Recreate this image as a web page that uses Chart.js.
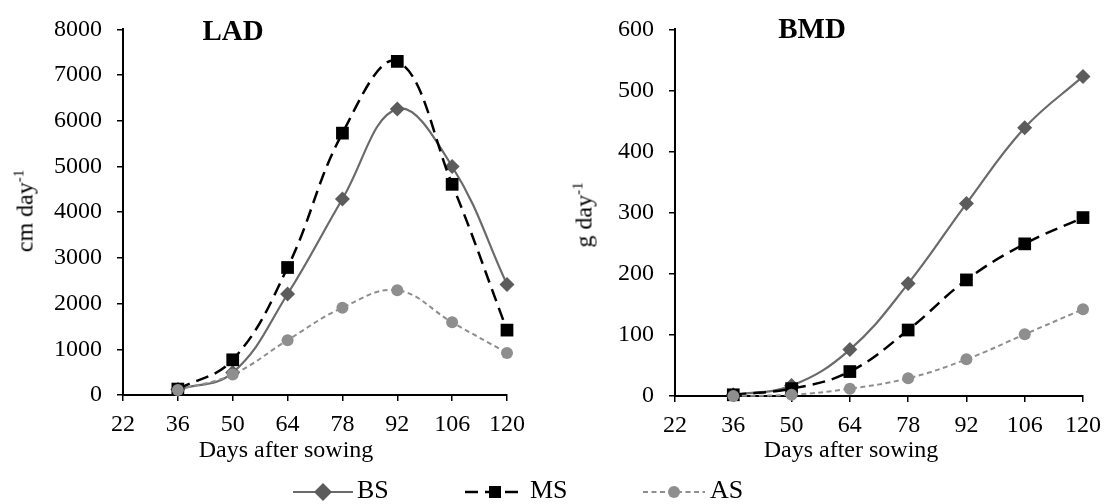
<!DOCTYPE html>
<html>
<head>
<meta charset="utf-8">
<script src="https://cdn.jsdelivr.net/npm/chart.js@4.4.1/dist/chart.umd.min.js"></script>
<style>
  body { margin: 0; background: #fff; }
  #wrap { position: relative; width: 1110px; height: 504px; overflow: hidden;
          font-family: 'Liberation Serif', 'Times New Roman', serif; color: #000; }
  canvas.plot { position: absolute; top: 0; }
  .txt { position: absolute; white-space: nowrap; }
  .title { font-weight: bold; font-size: 29px; line-height: 29px; transform: translateX(-50%); }
  .xtitle { font-size: 24px; line-height: 24px; top: 437px; transform: translateX(-50%); }
  .ytitle { font-size: 24px; line-height: 24px; transform: translate(-50%, -50%) rotate(-90deg); }
  .ytitle span { font-size: 15px; position: relative; top: -9px; }
  .leg { position: absolute; top: 482px; }
  .legtxt { position: absolute; font-size: 26px; line-height: 26px; top: 477px; }
</style>
</head>
<body>
<div id="wrap">
  <canvas id="ladChart" class="plot" width="540" height="470" style="left:0"></canvas>
  <canvas id="bmdChart" class="plot" width="555" height="470" style="left:555px"></canvas>

  <div class="txt title" style="left:233px; top:16px">LAD</div>
  <div class="txt title" style="left:812px; top:14px">BMD</div>

  <div class="txt xtitle" style="left:286px">Days after sowing</div>
  <div class="txt xtitle" style="left:851px">Days after sowing</div>

  <div class="txt ytitle" style="left:26px; top:211px">cm day<span>-1</span></div>
  <div class="txt ytitle" style="left:585px; top:215px">g day<span>-1</span></div>

  <canvas id="legBS" class="leg" width="62" height="20" style="left:292px"></canvas>
  <div class="legtxt" style="left:357px">BS</div>
  <canvas id="legMS" class="leg" width="62" height="20" style="left:464px"></canvas>
  <div class="legtxt" style="left:530px">MS</div>
  <canvas id="legAS" class="leg" width="64" height="20" style="left:642px"></canvas>
  <div class="legtxt" style="left:710px">AS</div>
</div>

<script>
// ---- data ----
const days = [36, 50, 64, 78, 92, 106, 120];
const xTicks = [22, 36, 50, 64, 78, 92, 106, 120];

const ladBS = [120, 490, 2210, 4290, 6260, 5000, 2420];
const ladMS = [130, 770, 2790, 5730, 7300, 4610, 1420];
const ladAS = [110, 450, 1200, 1910, 2290, 1590, 920];
const ladTicks = [0, 1000, 2000, 3000, 4000, 5000, 6000, 7000, 8000];

const bmdBS = [2, 17, 76, 184, 315, 439, 523];
const bmdMS = [2, 12, 40, 108, 190, 249, 292];
const bmdAS = [0, 2, 12, 29, 60, 101, 142];
const bmdTicks = [0, 100, 200, 300, 400, 500, 600];

const seriesNames = ['BS', 'MS', 'AS'];

// ---- styles ----
const FONT = "'Liberation Serif', 'Times New Roman', serif";
const styles = {
  BS: { line: '#6a6a6a', fill: '#5c5c5c', width: 2.2, dash: [], point: 'rectRot', r: 7.5, order: 3 },
  MS: { line: '#000000', fill: '#000000', width: 2.5, dash: [13, 7], point: 'rect', r: 9, order: 2 },
  AS: { line: '#8e8e8e', fill: '#8e8e8e', width: 2, dash: [5, 3.5], point: 'circle', r: 6, order: 1 }
};

function buildDatasets(valueLists) {
  return seriesNames.map((name, i) => {
    const st = styles[name];
    return {
      label: name,
      data: days.map((d, j) => ({ x: d, y: valueLists[i][j] })),
      borderColor: st.line,
      borderWidth: st.width,
      borderDash: st.dash,
      backgroundColor: st.fill,
      pointStyle: st.point,
      pointRadius: st.r,
      pointBackgroundColor: st.fill,
      pointBorderColor: st.fill,
      pointBorderWidth: 0,
      tension: 0.4,
      clip: false,
      order: st.order
    };
  });
}

function makeChart(id, valueLists, yTicks, pad, yWidth, xHeight) {
  const tickFont = { family: FONT, size: 24 };
  new Chart(document.getElementById(id), {
    type: 'line',
    data: { datasets: buildDatasets(valueLists) },
    options: {
      responsive: false,
      animation: false,
      events: [],
      layout: { padding: pad },
      plugins: { legend: { display: false }, tooltip: { enabled: false } },
      scales: {
        x: {
          type: 'linear',
          min: xTicks[0],
          max: xTicks[xTicks.length - 1],
          afterBuildTicks: s => { s.ticks = xTicks.map(v => ({ value: v })); },
          afterFit: s => { s.height = xHeight; },
          border: { color: '#000', width: 2 },
          grid: { drawOnChartArea: false, drawTicks: true, tickLength: 6, color: '#000', lineWidth: 1.5 },
          ticks: { color: '#000', font: tickFont, padding: 9, maxRotation: 0, callback: v => String(v) }
        },
        y: {
          min: yTicks[0],
          max: yTicks[yTicks.length - 1],
          afterBuildTicks: s => { s.ticks = yTicks.map(v => ({ value: v })); },
          afterFit: s => { s.width = yWidth; },
          border: { color: '#000', width: 2 },
          grid: { drawOnChartArea: false, drawTicks: true, tickLength: 6, color: '#000', lineWidth: 1.5 },
          ticks: { color: '#000', font: tickFont, padding: 15, callback: v => String(v) }
        }
      }
    }
  });
}

makeChart('ladChart', [ladBS, ladMS, ladAS], ladTicks, { top: 29, right: 33, left: 0, bottom: 0 }, 123, 75);
makeChart('bmdChart', [bmdBS, bmdMS, bmdAS], bmdTicks, { top: 20, right: 22, left: 0, bottom: 0 }, 120, 74);

// ---- legend samples ----
function drawSample(id, name) {
  const c = document.getElementById(id);
  const ctx = c.getContext('2d');
  const st = styles[name];
  const w = c.width, cy = c.height / 2, cx = w / 2;
  ctx.strokeStyle = st.line;
  ctx.lineWidth = st.width;
  ctx.setLineDash(st.dash);
  ctx.beginPath();
  ctx.moveTo(1, cy);
  ctx.lineTo(w - 1, cy);
  ctx.stroke();
  ctx.setLineDash([]);
  ctx.fillStyle = st.fill;
  ctx.beginPath();
  if (st.point === 'rectRot') {
    const r = 9;
    ctx.moveTo(cx, cy - r); ctx.lineTo(cx + r, cy); ctx.lineTo(cx, cy + r); ctx.lineTo(cx - r, cy);
    ctx.closePath();
  } else if (st.point === 'rect') {
    ctx.rect(cx - 6, cy - 6, 12, 12);
  } else {
    ctx.arc(cx, cy, 6, 0, Math.PI * 2);
  }
  ctx.fill();
}
drawSample('legBS', 'BS');
drawSample('legMS', 'MS');
drawSample('legAS', 'AS');
</script>
</body>
</html>
